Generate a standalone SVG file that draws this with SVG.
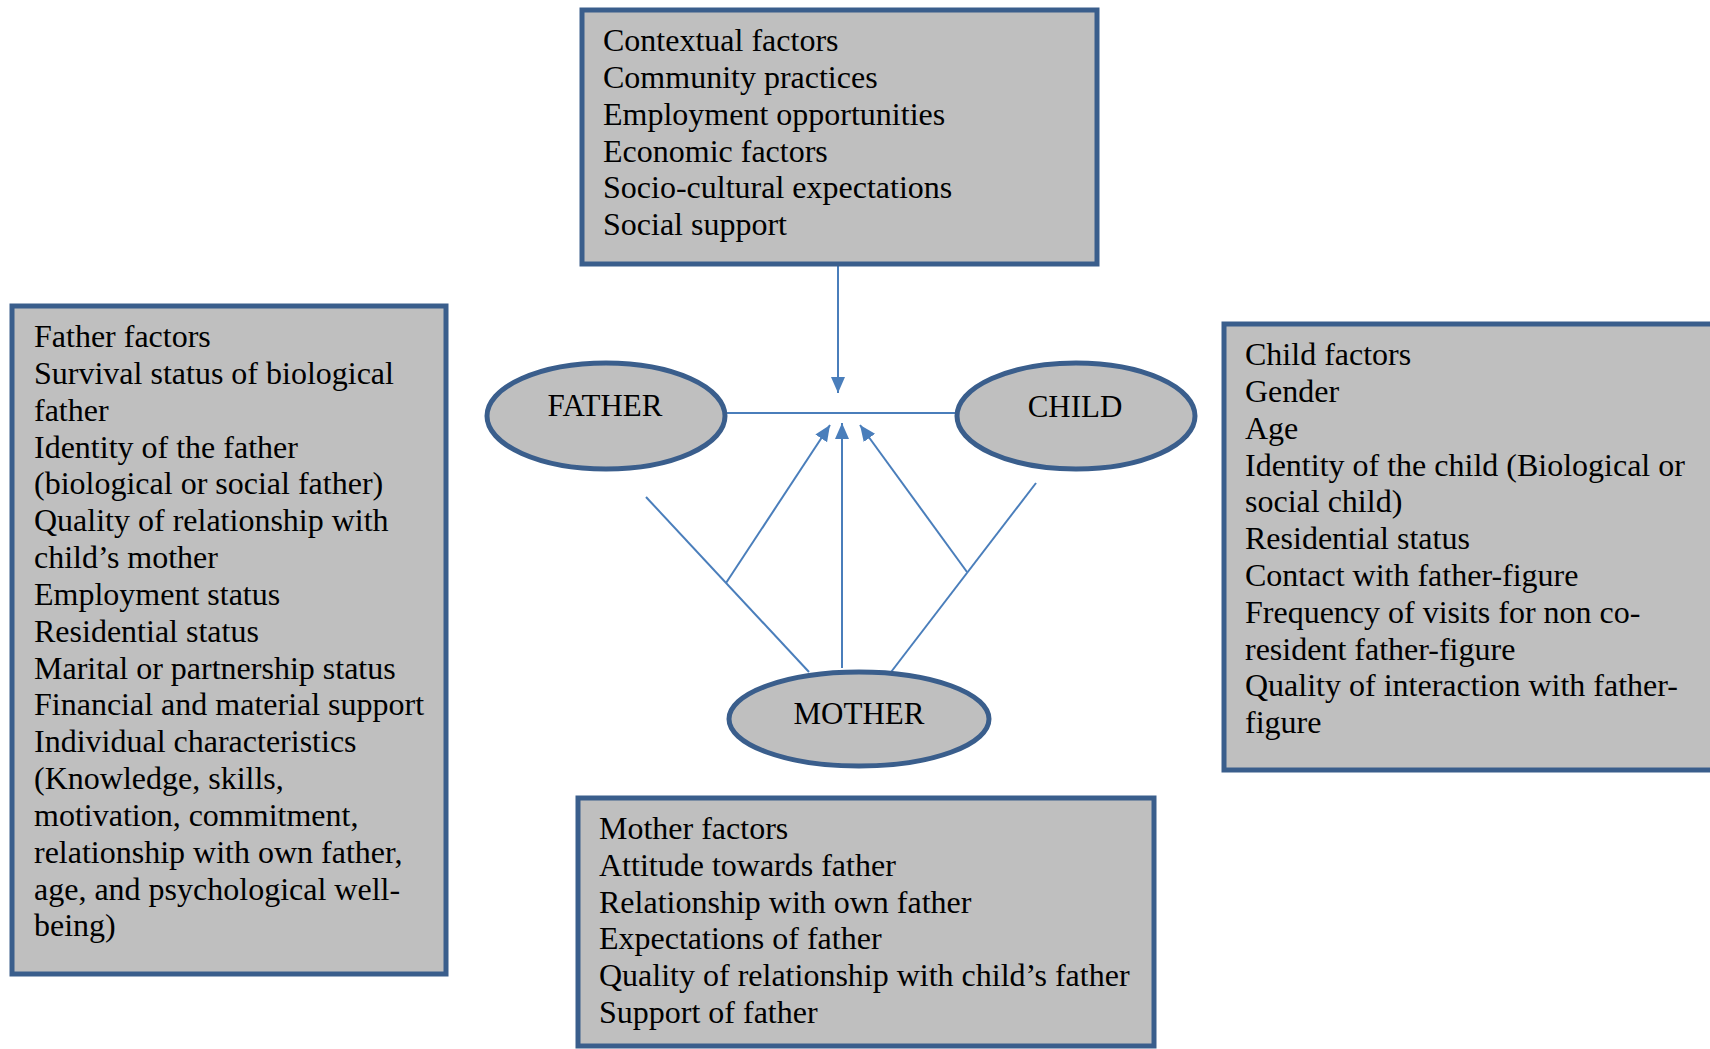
<svg xmlns="http://www.w3.org/2000/svg" width="1710" height="1049" viewBox="0 0 1710 1049">
<style>
.box{fill:#BFBFBF;stroke:#3A5E8C;stroke-width:5}
.ell{fill:#BFBFBF;stroke:#3A5E8C;stroke-width:5}
.t{font-family:"Liberation Serif","Times New Roman",serif;font-size:32px;fill:#000}
.lbl{font-family:"Liberation Serif","Times New Roman",serif;font-size:31px;fill:#000;text-anchor:middle}
.c{stroke:#4A7EBB;stroke-width:2;fill:none}
</style>
<defs>
<marker id="ah" markerUnits="userSpaceOnUse" markerWidth="18" markerHeight="16" refX="16" refY="7" orient="auto">
<path d="M0,0 L16,7 L0,14 Z" fill="#4A7EBB"/>
</marker>
</defs>
<rect width="1710" height="1049" fill="#fff"/>
<g id="connectors">
<line class="c" x1="838" y1="266" x2="838" y2="393" marker-end="url(#ah)"/>
<line class="c" x1="727" y1="413" x2="955" y2="413"/>
<line class="c" x1="842" y1="668" x2="842" y2="423" marker-end="url(#ah)"/>
<line class="c" x1="726" y1="583" x2="830" y2="425" marker-end="url(#ah)"/>
<line class="c" x1="967" y1="572" x2="860" y2="425" marker-end="url(#ah)"/>
<line class="c" x1="646" y1="497" x2="809" y2="672"/>
<line class="c" x1="1036" y1="483" x2="888" y2="676"/>
</g>
<g id="contextual">
<rect class="box" x="582" y="10" width="515" height="254"/>
<text class="t" x="603" y="51">Contextual factors</text>
<text class="t" x="603" y="88">Community practices</text>
<text class="t" x="603" y="125">Employment opportunities</text>
<text class="t" x="603" y="162">Economic factors</text>
<text class="t" x="603" y="198">Socio-cultural expectations</text>
<text class="t" x="603" y="235">Social support</text>
</g>
<g id="father-factors">
<rect class="box" x="12" y="306" width="434" height="668"/>
<text class="t" x="34" y="347">Father factors</text>
<text class="t" x="34" y="384">Survival status of biological</text>
<text class="t" x="34" y="421">father</text>
<text class="t" x="34" y="458">Identity of the father</text>
<text class="t" x="34" y="494">(biological or social father)</text>
<text class="t" x="34" y="531">Quality of relationship with</text>
<text class="t" x="34" y="568">child’s mother</text>
<text class="t" x="34" y="605">Employment status</text>
<text class="t" x="34" y="642">Residential status</text>
<text class="t" x="34" y="679">Marital or partnership status</text>
<text class="t" x="34" y="715">Financial and material support</text>
<text class="t" x="34" y="752">Individual characteristics</text>
<text class="t" x="34" y="789">(Knowledge, skills,</text>
<text class="t" x="34" y="826">motivation, commitment,</text>
<text class="t" x="34" y="863">relationship with own father,</text>
<text class="t" x="34" y="900">age, and psychological well-</text>
<text class="t" x="34" y="936">being)</text>
</g>
<g id="child-factors">
<rect class="box" x="1224" y="324" width="600" height="446"/>
<text class="t" x="1245" y="365">Child factors</text>
<text class="t" x="1245" y="402">Gender</text>
<text class="t" x="1245" y="439">Age</text>
<text class="t" x="1245" y="476">Identity of the child (Biological or</text>
<text class="t" x="1245" y="512">social child)</text>
<text class="t" x="1245" y="549">Residential status</text>
<text class="t" x="1245" y="586">Contact with father-figure</text>
<text class="t" x="1245" y="623">Frequency of visits for non co-</text>
<text class="t" x="1245" y="660">resident father-figure</text>
<text class="t" x="1245" y="696">Quality of interaction with father-</text>
<text class="t" x="1245" y="733">figure</text>
</g>
<g id="mother-factors">
<rect class="box" x="578" y="798" width="576" height="248"/>
<text class="t" x="599" y="839">Mother factors</text>
<text class="t" x="599" y="876">Attitude towards father</text>
<text class="t" x="599" y="913">Relationship with own father</text>
<text class="t" x="599" y="949">Expectations of father</text>
<text class="t" x="599" y="986">Quality of relationship with child’s father</text>
<text class="t" x="599" y="1023">Support of father</text>
</g>
<g id="father">
<ellipse class="ell" cx="606" cy="416" rx="119" ry="53"/>
<text class="lbl" x="605" y="416">FATHER</text>
</g>
<g id="child">
<ellipse class="ell" cx="1076" cy="416" rx="119" ry="53"/>
<text class="lbl" x="1075" y="417">CHILD</text>
</g>
<g id="mother">
<ellipse class="ell" cx="859" cy="719" rx="130" ry="47"/>
<text class="lbl" x="859" y="724">MOTHER</text>
</g>
</svg>
